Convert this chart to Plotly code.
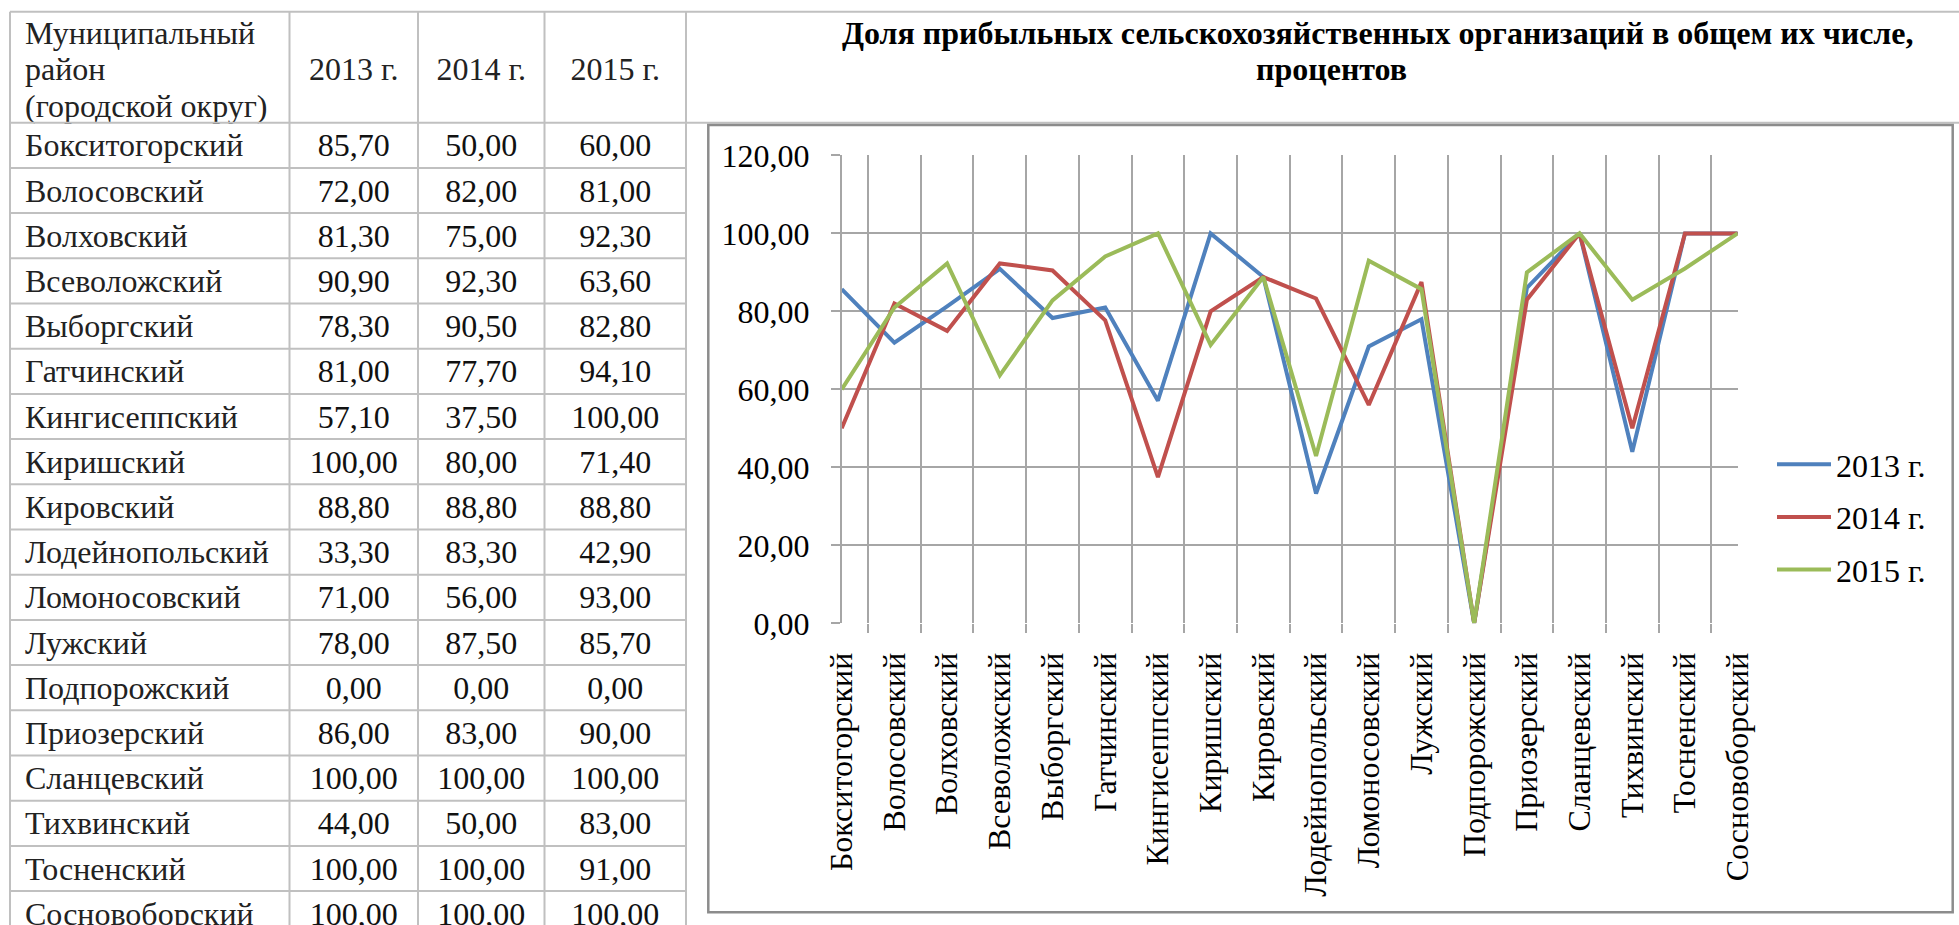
import plotly.graph_objects as go

# Данные: доля прибыльных сельхозорганизаций, %
districts = [
    "Бокситогорский", "Волосовский", "Волховский", "Всеволожский",
    "Выборгский", "Гатчинский", "Кингисеппский", "Киришский",
    "Кировский", "Лодейнопольский", "Ломоносовский", "Лужский",
    "Подпорожский", "Приозерский", "Сланцевский", "Тихвинский",
    "Тосненский", "Сосновоборский",
]
v2013 = [85.7, 72.0, 81.3, 90.9, 78.3, 81.0, 57.1, 100.0, 88.8, 33.3,
         71.0, 78.0, 0.0, 86.0, 100.0, 44.0, 100.0, 100.0]
v2014 = [50.0, 82.0, 75.0, 92.3, 90.5, 77.7, 37.5, 80.0, 88.8, 83.3,
         56.0, 87.5, 0.0, 83.0, 100.0, 50.0, 100.0, 100.0]
v2015 = [60.0, 81.0, 92.3, 63.6, 82.8, 94.1, 100.0, 71.4, 88.8, 42.9,
         93.0, 85.7, 0.0, 90.0, 100.0, 83.0, 91.0, 100.0]
years = ["2013 г.", "2014 г.", "2015 г."]
first_header = ["Муниципальный", "район", "(городской округ)"]
colors = ["#4F81BD", "#C0504D", "#9BBB59"]

W, H = 1959, 925
FONT = "Liberation Serif"
FS = 32
GRID = "#c0c0c0"

# геометрия таблицы (в пикселях)
col_edges = [10, 289.5, 418, 544.5, 686]
table_top, header_bottom, row_h = 11.7, 122.7, 45.2


def px(x):
    return x / W


def py(y):
    return 1 - y / H


def fmt(v):
    return f"{v:.2f}".replace(".", ",")


fig = go.Figure()

# ---- Таблица слева (на отдельных скрытых осях x2/y2 в пиксельных единицах)
row_mid = [header_bottom + (i + 0.5) * row_h + 3 for i in range(len(districts))]
fig.add_trace(go.Scatter(
    x=[col_edges[0] + 15] * len(districts), y=row_mid, text=districts,
    mode="text", textposition="middle right",
    textfont=dict(family=FONT, size=FS, color="#222"),
    xaxis="x2", yaxis="y2", showlegend=False, hoverinfo="skip",
))
for j, vals in enumerate([v2013, v2014, v2015]):
    cx = (col_edges[j + 1] + col_edges[j + 2]) / 2
    fig.add_trace(go.Scatter(
        x=[cx] * len(vals), y=row_mid, text=[fmt(v) for v in vals],
        mode="text", textposition="middle center",
        textfont=dict(family=FONT, size=FS, color="#111"),
        xaxis="x2", yaxis="y2", showlegend=False, hoverinfo="skip",
    ))
# шапка
fig.add_trace(go.Scatter(
    x=[col_edges[0] + 15] * 3, y=[35.5, 72, 108.5], text=first_header,
    mode="text", textposition="middle right",
    textfont=dict(family=FONT, size=FS, color="#222"),
    xaxis="x2", yaxis="y2", showlegend=False, hoverinfo="skip",
))
fig.add_trace(go.Scatter(
    x=[(col_edges[j + 1] + col_edges[j + 2]) / 2 for j in range(3)],
    y=[(table_top + header_bottom) / 2 + 5] * 3, text=years,
    mode="text", textposition="middle center",
    textfont=dict(family=FONT, size=FS, color="#222"),
    xaxis="x2", yaxis="y2", showlegend=False, hoverinfo="skip",
))

# линии таблицы
for xe in col_edges:
    fig.add_shape(type="line", xref="x2", yref="y2", x0=xe, x1=xe, y0=table_top, y1=H,
                  line=dict(color=GRID, width=2))
for ye in [table_top, header_bottom]:
    fig.add_shape(type="line", xref="x2", yref="y2", x0=col_edges[0], x1=W, y0=ye, y1=ye,
                  line=dict(color=GRID, width=2))
for k in range(1, len(districts)):
    ye = header_bottom + k * row_h
    fig.add_shape(type="line", xref="x2", yref="y2", x0=col_edges[0], x1=col_edges[-1],
                  y0=ye, y1=ye, line=dict(color=GRID, width=2))

# ---- Линии графика
for name, vals, c in zip(years, [v2013, v2014, v2015], colors):
    fig.add_trace(go.Scatter(
        x=districts, y=vals, mode="lines", name=name,
        legendgroup=name,
        line=dict(color=c, width=4),
    ))

# рамка области диаграммы
fig.add_shape(type="rect", xref="paper", yref="paper",
              x0=px(708.3), x1=px(1952.7), y0=py(912.3), y1=py(125),
              line=dict(color="#8c8c8c", width=2.5))

# Заголовок
fig.add_annotation(
    text="<b>Доля прибыльных сельскохозяйственных организаций в общем их числе,</b>",
    xref="paper", yref="paper", x=px(1378), y=py(32.7),
    xanchor="center", yanchor="middle", showarrow=False,
    font=dict(family=FONT, size=FS, color="black"),
)
fig.add_annotation(
    text="<b>процентов</b>",
    xref="paper", yref="paper", x=px(1331), y=py(69.3),
    xanchor="center", yanchor="middle", showarrow=False,
    font=dict(family=FONT, size=FS, color="black"),
)

fig.update_layout(
    width=W, height=H,
    margin=dict(l=0, r=0, t=0, b=0, pad=0),
    paper_bgcolor="white",
    plot_bgcolor="rgba(0,0,0,0)",
    separators=", ",
    font=dict(family=FONT, size=FS, color="black"),
    showlegend=True,
    legend=dict(
        x=px(1772), y=py(517), xanchor="left", yanchor="middle",
        traceorder="grouped", tracegroupgap=8,
        itemwidth=54,
        font=dict(family=FONT, size=FS, color="black"),
        bgcolor="rgba(0,0,0,0)",
    ),
    xaxis=dict(
        domain=[px(841.7), px(1737.7)],
        type="category",
        tickson="boundaries",
        automargin=False,
        showgrid=True, gridcolor="#a6a6a6", gridwidth=1.5,
        ticks="outside", ticklen=9, tickcolor="#a6a6a6", tickwidth=1.5,
        tickangle=-90,
        ticklabelstandoff=22,
        tickfont=dict(family=FONT, size=FS, color="black"),
        showline=False, zeroline=False,
    ),
    yaxis=dict(
        domain=[py(623.3), py(155.4)],
        range=[0, 120], tick0=0, dtick=20,
        tickformat=".2f",
        automargin=False,
        showgrid=True, gridcolor="#a6a6a6", gridwidth=1.5,
        zeroline=False,
        ticks="outside", ticklen=9, tickcolor="#a6a6a6", tickwidth=1.5,
        showline=True, linecolor="#a6a6a6", linewidth=1.5,
        ticklabelstandoff=15,
        tickfont=dict(family=FONT, size=FS, color="black"),
    ),
    xaxis2=dict(domain=[0, 1], range=[0, W], visible=False, anchor="y2",
                fixedrange=True, automargin=False),
    yaxis2=dict(domain=[0, 1], range=[H, 0], visible=False, anchor="x2",
                fixedrange=True, automargin=False),
)

# страница без полей, чтобы рисунок стоял ровно в окне
fig.write_html("out.html", config={"displayModeBar": False},
               post_script="document.body.style.margin='0';")
